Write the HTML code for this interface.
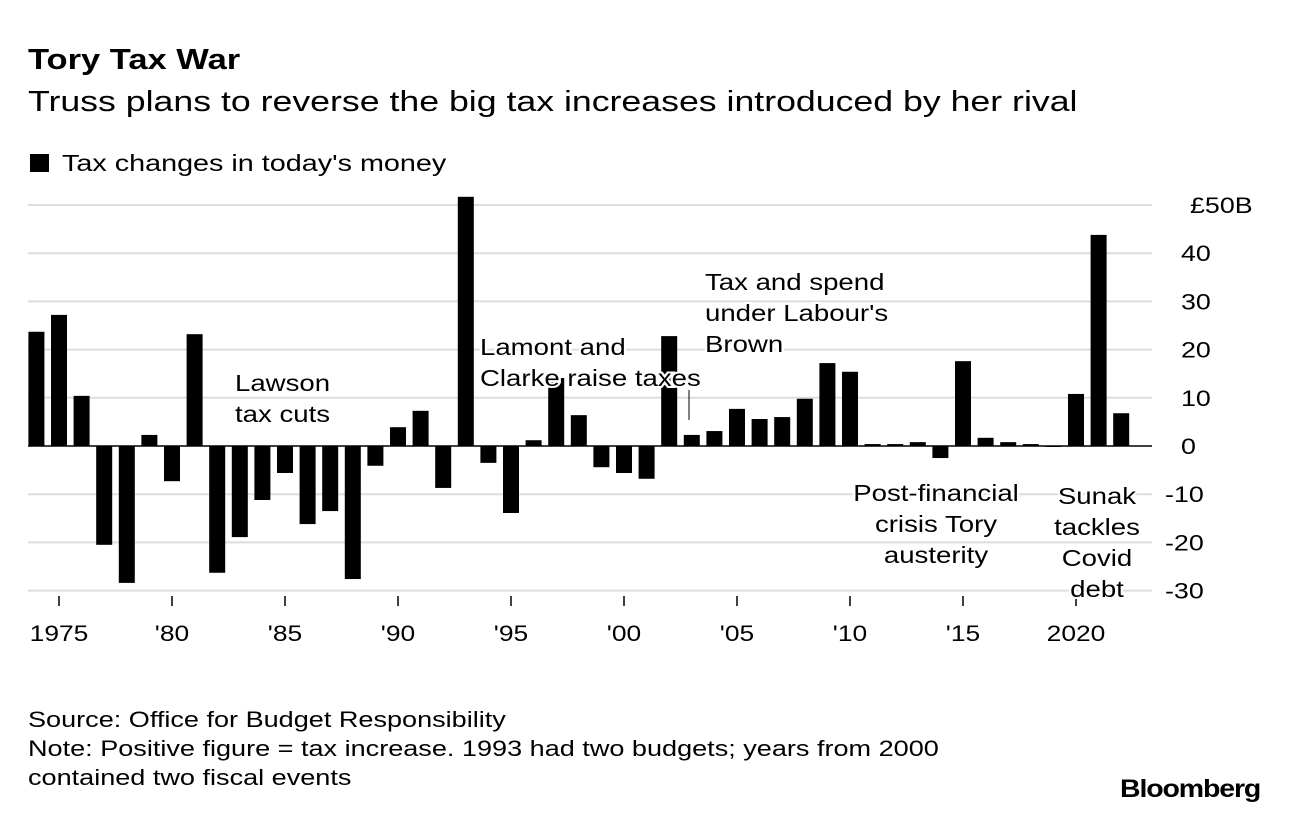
<!DOCTYPE html>
<html><head><meta charset="utf-8"><style>
body{margin:0;background:#fff;font-family:"Liberation Sans",sans-serif;color:#000;}
#wrap{position:relative;width:1289px;height:816px;overflow:hidden;}
.t{position:absolute;white-space:nowrap;transform-origin:0 0;}
</style></head><body>
<div id="wrap">
<div class="t" style="left:28px;top:44px;font-size:29px;font-weight:bold;transform:scaleX(1.19);">Tory Tax War</div>
<div class="t" style="left:28px;top:86px;font-size:29px;transform:scaleX(1.23);">Truss plans to reverse the big tax increases introduced by her rival</div>
<div class="t" style="left:30px;top:150px;font-size:23px;"><span style="display:inline-block;width:19px;height:18px;background:#000;margin-right:13px;vertical-align:-1px;"></span><span style="display:inline-block;transform:scaleX(1.25);transform-origin:0 0;">Tax changes in today's money</span></div>
<svg id="chart" width="1289" height="816" style="position:absolute;left:0;top:0"></svg>
<div class="t" style="left:28px;top:705px;font-size:22px;line-height:29px;transform:scaleX(1.23);">Source: Office for Budget Responsibility<br>Note: Positive figure = tax increase. 1993 had two budgets; years from 2000<br>contained two fiscal events</div>
<div class="t" style="left:1120px;top:775px;font-size:25px;font-weight:bold;letter-spacing:-1px;transform:scaleX(1.14);">Bloomberg</div>
</div>
<script>
const years=[1974,1975,1976,1977,1978,1979,1980,1981,1982,1983,1984,1985,1986,1987,1988,1989,1990,1991,1992,1993,1994,1995,1996,1997,1998,1999,2000,2001,2002,2003,2004,2005,2006,2007,2008,2009,2010,2011,2012,2013,2014,2015,2016,2017,2018,2019,2020,2021,2022];
const values=[23.7,27.2,10.4,-20.5,-28.4,2.3,-7.3,23.2,-26.3,-18.9,-11.2,-5.6,-16.2,-13.5,-27.6,-4.1,3.9,7.3,-8.7,51.7,-3.5,-13.9,1.2,14.1,6.4,-4.4,-5.6,-6.8,22.8,2.3,3.1,7.7,5.6,6.0,9.8,17.2,15.4,0.4,0.4,0.8,-2.5,17.6,1.7,0.8,0.4,-0.2,10.8,43.8,6.8];
const yTicks=[50,40,30,20,10,0,-10,-20,-30];
const yTickLabels=["£50B","40","30","20","10","0","-10","-20","-30"];
const xTicks=[1975,1980,1985,1990,1995,2000,2005,2010,2015,2020];
const xTickLabels=["1975","'80","'85","'90","'95","'00","'05","'10","'15","2020"];
const NS="http://www.w3.org/2000/svg";
const svg=document.getElementById('chart');
const y=v=>446-v*4.82;
const x=yr=>59+(yr-1975)*22.6;
function mk(tag,attrs){const e=document.createElementNS(NS,tag);for(const k in attrs)e.setAttribute(k,attrs[k]);svg.appendChild(e);return e;}
function txt(px,py,s,size,anchor,sx){
  const e=mk('text',{x:0,y:0,transform:`translate(${px},${py}) scale(${sx},1)`,'font-size':size,'text-anchor':anchor,'font-family':'Liberation Sans, sans-serif'});
  e.textContent=s;return e;
}
yTicks.forEach((t,i)=>{
  const g=mk('line',{x1:28,x2:1152,y1:y(t),y2:y(t),stroke:t===0?'#000':'#ddd','stroke-width':t===0?1.5:2});
  
  
  const tx=txt(t<0?1165:(t===50?1190:1181),y(t)+8,yTickLabels[i],22,'start',1.22);
  
  
});
years.forEach((yr,i)=>{
  const v=values[i];
  const r=mk('rect',{x:x(yr)-8,y:Math.min(y(v),y(0)),width:16,height:Math.abs(y(v)-y(0)),fill:'#000'});
  
  
});
xTicks.forEach((yr,i)=>{
  const l=mk('line',{x1:x(yr),x2:x(yr),y1:596,y2:606,stroke:'#000','stroke-width':1.5});
  
  
  const tx=txt(x(yr),641,xTickLabels[i],22,'middle',1.2);
  
  
});
const al=mk('line',{x1:689,x2:689,y1:390,y2:420,stroke:'#000','stroke-width':1});


const ann=[[235,391,["Lawson","tax cuts"],'start'],[480,355,["Lamont and","Clarke raise taxes"],'start'],[705,290,["Tax and spend","under Labour's","Brown"],'start'],[936,501,["Post-financial","crisis Tory","austerity"],'middle'],[1097,504,["Sunak","tackles","Covid","debt"],'middle']];
ann.forEach(a=>{a[2].forEach((s,j)=>{
  const tx=txt(a[0],a[1]+j*31,s,23,a[3],1.2);
  tx.setAttribute('stroke','#fff');
  tx.setAttribute('stroke-width','4');
  tx.setAttribute('paint-order','stroke');
  
  
});});
</script>
</body></html>
